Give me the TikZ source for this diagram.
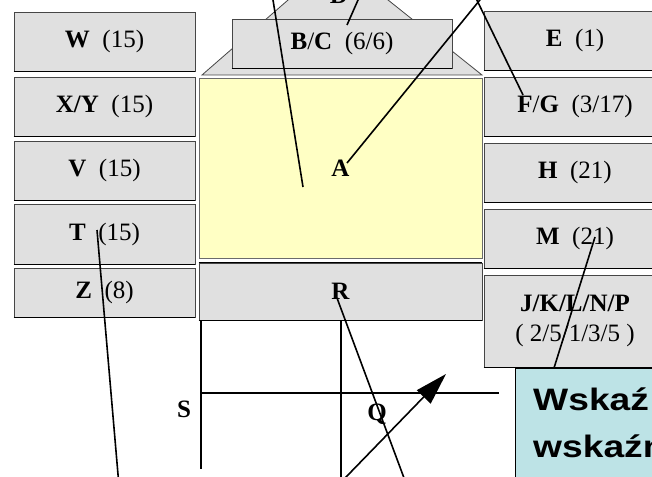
\documentclass[tikz,border=0pt]{standalone}
\usepackage{fontspec}
\setmainfont{Liberation Serif}
\newfontfamily\arialfont{Liberation Sans}
\usepackage{graphicx}
\usetikzlibrary{arrows.meta}
\definecolor{boxgray}{RGB}{224,224,224}
\definecolor{boxedge}{RGB}{70,70,70}
\definecolor{paleyellow}{RGB}{255,255,196}
\definecolor{palecyan}{RGB}{189,227,230}
\begin{document}
\begin{tikzpicture}[x=1pt,y=-1pt,
  txt/.style={font=\fontsize{25}{30}\selectfont},
  graybox/.style={draw=boxedge, fill=boxgray, line width=0.9pt, inner sep=0pt, txt, align=center},
  lbox/.style={graybox, minimum width=181pt},
  rbox/.style={graybox, minimum width=182pt},
  lbl/.style={font=\fontsize{25}{30}\selectfont\bfseries, inner sep=0pt},
  leader/.style={line width=1.6pt, black},
  frameline/.style={line width=1.5pt, black},
  wtxt/.style={font=\arialfont\bfseries\fontsize{31}{37}\selectfont, inner sep=0pt, anchor=base west}
]
\useasboundingbox (0,0) rectangle (652,476);
\clip (0,0) rectangle (652,476);

% roof
\filldraw[fill=boxgray, draw=boxedge, line width=0.8pt] (202,75) -- (311,-20) -- (363,-20) -- (482,75) -- cycle;
\node[lbl, anchor=base] (D) at (339,4) {D};

% B/C box
\node[graybox, minimum width=220pt, minimum height=49pt] (BC) at (342,43.5) {\textbf{B}/\textbf{C}\ \ (6/6)};

% left column
\node[lbox, minimum height=59pt] (W) at (104.5,41.5) {\textbf{W}\ \ (15)};
\node[lbox, minimum height=59pt] (XY) at (104.5,106.5) {\textbf{X/Y}\ \ (15)};
\node[lbox, minimum height=59pt] (V) at (104.5,170.5) {\textbf{V}\ \ (15)};
\node[lbox, minimum height=60pt] (T) at (104.5,234) {\textbf{T}\ \ (15)};
\node[lbox, minimum height=49pt] (Z) at (104.5,292.5) {\textbf{Z}\ \ (8)};

% right column
\node[rbox, minimum height=59pt] (E) at (575,40.5) {\textbf{E}\ \ (1)};
\node[rbox, minimum height=59pt] (FG) at (575,106.5) {\textbf{F}/\textbf{G}\ \ (3/17)};
\node[rbox, minimum height=59pt] (H) at (575,172.5) {\textbf{H}\ \ (21)};
\node[rbox, minimum height=59pt] (M) at (575,238.5) {\textbf{M}\ \ (21)};
\node[rbox, minimum height=92pt] (J) at (575,321) {\textbf{J/K/L/N/P}\\( 2/5/1/3/5 )};

\foreach \n in {W,XY,V,T,Z,E,FG,H,M,J,BC}
  \draw[black, line width=1.2pt] (\n.south west) -- (\n.south east);

% central boxes
\node[draw=boxedge!80, fill=paleyellow, line width=0.9pt, minimum width=283pt, minimum height=180pt, lbl] (A) at (340.5,168) {A};
\node[graybox, minimum width=283pt, minimum height=57pt, lbl] (R) at (340.5,291.5) {R};
\draw[black, line width=1.2pt] (R.north west) -- (R.north east);
\draw[black, line width=1.2pt] (R.south west) -- (R.south east);

% lower frame
\coordinate (sv1) at (201,469);
\coordinate (sv2) at (341,490);
\coordinate (sh1) at (201,393);
\coordinate (sh2) at (499,393);
\draw[frameline] (R.south west -| sv1) -- (sv1);
\draw[frameline] (R.south -| sv2) -- (sv2);
\draw[frameline] (sh1) -- (sh2);
\node[lbl] (S) at (184,409) {S};
\node[lbl] (Q) at (377,414) {Q};

% cyan box
\node[draw=black, fill=palecyan, line width=1.4pt, anchor=north west, minimum width=300pt, minimum height=200pt] (wsk) at (515,368) {};
\node[wtxt] (w1) at (533,410) {\scalebox{1.2}[1]{Wskaź}};
\node[wtxt] (w2) at (533,457) {\scalebox{1.2}[1]{wskaźn}};

% leader lines
\coordinate (p1) at (303,187);   \coordinate (p1e) at (271.4,-10);
\coordinate (pA) at (347,163);   \coordinate (pAe) at (488,-10);
\coordinate (pF) at (523,95);    \coordinate (pFe) at (472,-10);
\coordinate (pD) at (347,25);    \coordinate (pDe) at (362,-9);
\coordinate (pT) at (97,230);    \coordinate (pTe) at (119,486);
\coordinate (pM) at (595,237);   \coordinate (pMe) at (554,368);
\coordinate (pR) at (337,298);   \coordinate (pRe) at (407,486);
\coordinate (arS) at (337.3,486); \coordinate (arE) at (446,374);
\draw[leader] (p1) -- (p1e);
\draw[leader] (pA) -- (pAe);
\draw[leader] (pF) -- (pFe);
\draw[leader] (pD) -- (pDe);
\draw[leader] (pT) -- (pTe);
\draw[leader] (pM) -- (pMe);
\draw[leader] (pR) -- (pRe);
\draw[leader, -{Triangle[length=32pt,width=19pt]}] (arS) -- (arE);
\end{tikzpicture}
\end{document}
